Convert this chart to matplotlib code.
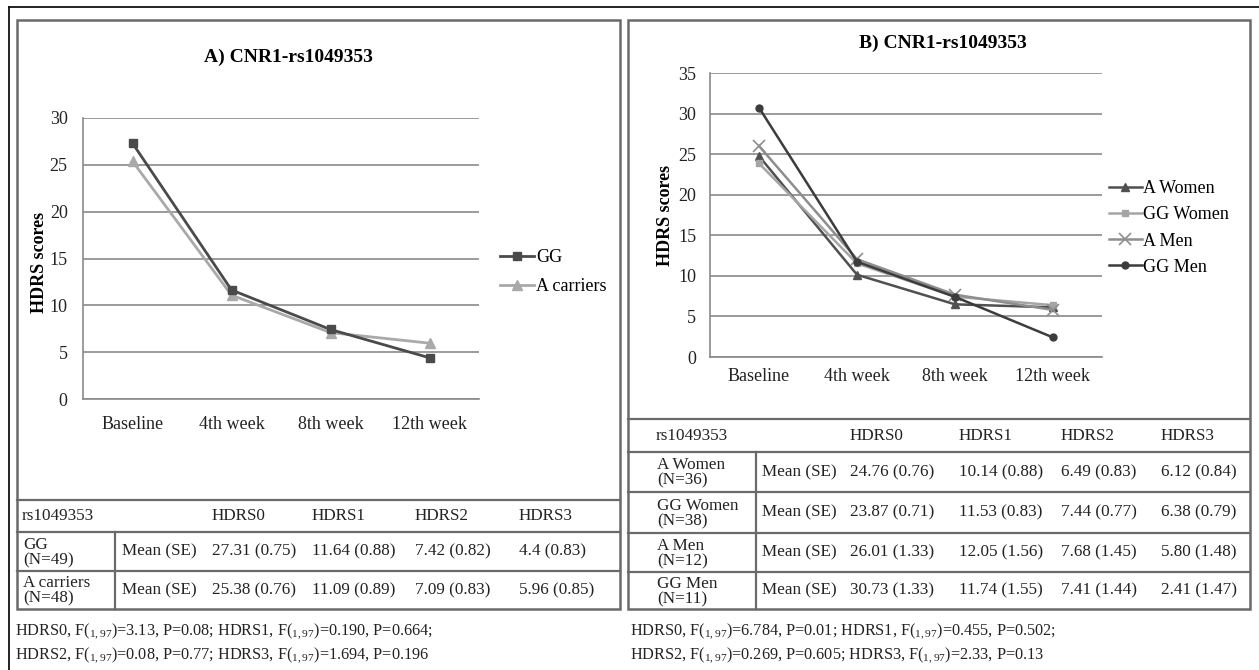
import numpy as np
import matplotlib.pyplot as plt
from matplotlib.lines import Line2D
from matplotlib.patches import Rectangle

plt.rcParams['font.family'] = ['Liberation Serif', 'DejaVu Serif']
plt.rcParams['mathtext.fontset'] = 'custom'
plt.rcParams['mathtext.rm'] = 'Liberation Serif'
plt.rcParams['mathtext.it'] = 'Liberation Serif:italic'

W, H = 1259, 670

#### data ####
weeks = ["Baseline", "4th week", "8th week", "12th week"]
hdrs_cols = ["HDRS0", "HDRS1", "HDRS2", "HDRS3"]

# panel A: genotype
a_groups = ["GG", "A carriers"]
a_n = [49, 48]
a_gg = ["27.31", "11.64", "7.42", "4.4"]
a_gg_se = ["0.75", "0.88", "0.82", "0.83"]
a_ac = ["25.38", "11.09", "7.09", "5.96"]
a_ac_se = ["0.76", "0.89", "0.83", "0.85"]

# panel B: genotype x sex
b_groups = ["A Women", "GG Women", "A Men", "GG Men"]
b_n = [36, 38, 12, 11]
b_aw = ["24.76", "10.14", "6.49", "6.12"]
b_aw_se = ["0.76", "0.88", "0.83", "0.84"]
b_gw = ["23.87", "11.53", "7.44", "6.38"]
b_gw_se = ["0.71", "0.83", "0.77", "0.79"]
b_am = ["26.01", "12.05", "7.68", "5.80"]
b_am_se = ["1.33", "1.56", "1.45", "1.48"]
b_gm = ["30.73", "11.74", "7.41", "2.41"]
b_gm_se = ["1.33", "1.55", "1.44", "1.47"]

a_notes = ["HDRS0, F($_{1,97}$)=3.13, P=0.08; HDRS1, F($_{1,97}$)=0.190, P=0.664;",
           "HDRS2, F($_{1,97}$)=0.08, P=0.77; HDRS3, F($_{1,97}$)=1.694, P=0.196"]
b_notes = ["HDRS0, F($_{1,97}$)=6.784, P=0.01; HDRS1, F($_{1,97}$)=0.455, P=0.502;",
           "HDRS2, F($_{1,97}$)=0.269, P=0.605; HDRS3, F($_{1,97}$)=2.33, P=0.13"]


def fx(x):
    return x / W


def fy(y):
    return 1 - y / H


def hline(fig, x0, x1, y, color='#6a6a6a', lw=1.6):
    fig.add_artist(Line2D([fx(x0), fx(x1)], [fy(y), fy(y)], color=color, lw=lw))


def vline(fig, x, y0, y1, color='#6a6a6a', lw=1.6):
    fig.add_artist(Line2D([fx(x), fx(x)], [fy(y0), fy(y1)], color=color, lw=lw))


def chart(fig, left, right, top, bottom, ymax, series, styles, labels):
    ax = fig.add_axes([fx(left), fy(bottom), (right - left) / W, (bottom - top) / H])
    x = np.arange(len(weeks))
    for vals, st, lab in zip(series, styles, labels):
        ax.plot(x, [float(v) for v in vals], label=lab, **st)
    ax.set_xlim(-0.5, len(weeks) - 0.5)
    ax.set_ylim(0, ymax)
    ax.set_yticks(range(0, ymax + 1, 5))
    ax.set_xticks(x, weeks)
    ax.grid(axis='y', color='#8a8a8a', lw=1.2)
    ax.set_axisbelow(True)
    for s in ['top', 'right']:
        ax.spines[s].set_visible(False)
    for s in ['left', 'bottom']:
        ax.spines[s].set_color('#8a8a8a')
        ax.spines[s].set_linewidth(1.2)
    ax.tick_params(length=0, labelsize=13, colors='#222222')
    return ax


fig = plt.figure(figsize=(W / 100, H / 100), dpi=100)

# outer frame and panel boxes
hline(fig, 9, 1259, 7, color='#111111', lw=1.3)
vline(fig, 9, 7, 670, color='#111111', lw=1.3)
for x0, x1 in [(17, 620), (628, 1250)]:
    fig.add_artist(Rectangle((fx(x0), fy(609)), (x1 - x0) / W, (609 - 20) / H,
                             transform=fig.transFigure, fill=False,
                             edgecolor='#6a6a6a', lw=1.8))

#### Panel A ####
styA = [dict(color='#a9a9a9', lw=2.0, marker='^', ms=7, zorder=3),
        dict(color='#4a4a4a', lw=2.0, marker='s', ms=6, zorder=4)]
axA = chart(fig, 83, 479, 118, 399, 30, [a_ac, a_gg], styA, ["A carriers", "GG"])
axA.tick_params(axis='y', pad=11)
axA.tick_params(axis='x', pad=12)
h, l = axA.get_legend_handles_labels()
axA.legend(h[::-1], l[::-1], loc='center left', bbox_to_anchor=(fx(500), fy(272)),
           bbox_transform=fig.transFigure, frameon=False, fontsize=13,
           handlelength=1.9, handletextpad=0.1, labelspacing=0.65,
           borderpad=0, borderaxespad=0)
fig.text(fx(288), fy(57), "A) CNR1-rs1049353", ha='center', va='center',
         fontsize=14, fontweight='bold')
fig.text(fx(39), fy(262), "HDRS scores", rotation=90, ha='center', va='center',
         fontsize=13, fontweight='bold')

#### Panel B ####
styB = [dict(color='#505050', lw=1.8, marker='^', ms=6, zorder=3),
        dict(color='#a5a5a5', lw=1.8, marker='s', ms=5, zorder=3),
        dict(color='#8e8e8e', lw=1.8, marker='x', ms=8, mew=1.2, zorder=3),
        dict(color='#3c3c3c', lw=1.8, marker='o', ms=5, zorder=4)]
axB = chart(fig, 710, 1102, 73, 357, 35, [b_aw, b_gw, b_am, b_gm], styB, b_groups)
axB.tick_params(axis='y', pad=10)
axB.tick_params(axis='x', pad=8)
axB.legend(loc='center left', bbox_to_anchor=(fx(1109), fy(228)),
           bbox_transform=fig.transFigure, frameon=False, fontsize=13,
           handlelength=1.8, handletextpad=0.1, labelspacing=0.5,
           borderpad=0, borderaxespad=0)
fig.text(fx(943), fy(43), "B) CNR1-rs1049353", ha='center', va='center',
         fontsize=14, fontweight='bold')
fig.text(fx(666), fy(215), "HDRS scores", rotation=90, ha='center', va='center',
         fontsize=13, fontweight='bold')

#### Tables ####
fs = 12.3
tc = '#222222'


def table(x0, x1, div, rows_y, label_x, mean_x, col_x, groups, ns, means, ses):
    # rows_y: header top, header bottom, row bottoms...
    for y in rows_y[:-1]:
        hline(fig, x0, x1, y)
    vline(fig, div, rows_y[1], rows_y[-1])
    hy = (rows_y[0] + rows_y[1]) / 2
    fig.text(fx(label_x), fy(hy), "rs1049353", va='center', fontsize=fs, color=tc)
    for cx, c in zip(col_x, hdrs_cols):
        fig.text(fx(cx), fy(hy), c, va='center', fontsize=fs, color=tc)
    for i, (g, n, m, s) in enumerate(zip(groups, ns, means, ses)):
        cy = (rows_y[i + 1] + rows_y[i + 2]) / 2
        fig.text(fx(label_x + 1), fy(cy + 1), f"{g}\n(N={n})", va='center',
                 fontsize=fs, color=tc, linespacing=0.95)
        fig.text(fx(mean_x), fy(cy), "Mean (SE)", va='center', fontsize=fs, color=tc)
        for cx, mv, sv in zip(col_x, m, s):
            fig.text(fx(cx), fy(cy), f"{mv} ({sv})", va='center', fontsize=fs, color=tc)


table(17, 620, 115, [500, 532, 571, 609], 22, 122, [212, 312, 415, 519],
      a_groups, a_n, [a_gg, a_ac], [a_gg_se, a_ac_se])
table(628, 1250, 756, [419, 452, 492, 533, 572, 609], 656, 762, [850, 959, 1061, 1161],
      b_groups, b_n, [b_aw, b_gw, b_am, b_gm], [b_aw_se, b_gw_se, b_am_se, b_gm_se])

#### Footnotes ####
for i, (ta, tb) in enumerate(zip(a_notes, b_notes)):
    y = 631 + 24 * i
    fig.text(fx(15), fy(y), ta, va='center', fontsize=11.7, color=tc)
    fig.text(fx(630), fy(y), tb, va='center', fontsize=11.7, color=tc)

fig.savefig("out.png", dpi=100)
